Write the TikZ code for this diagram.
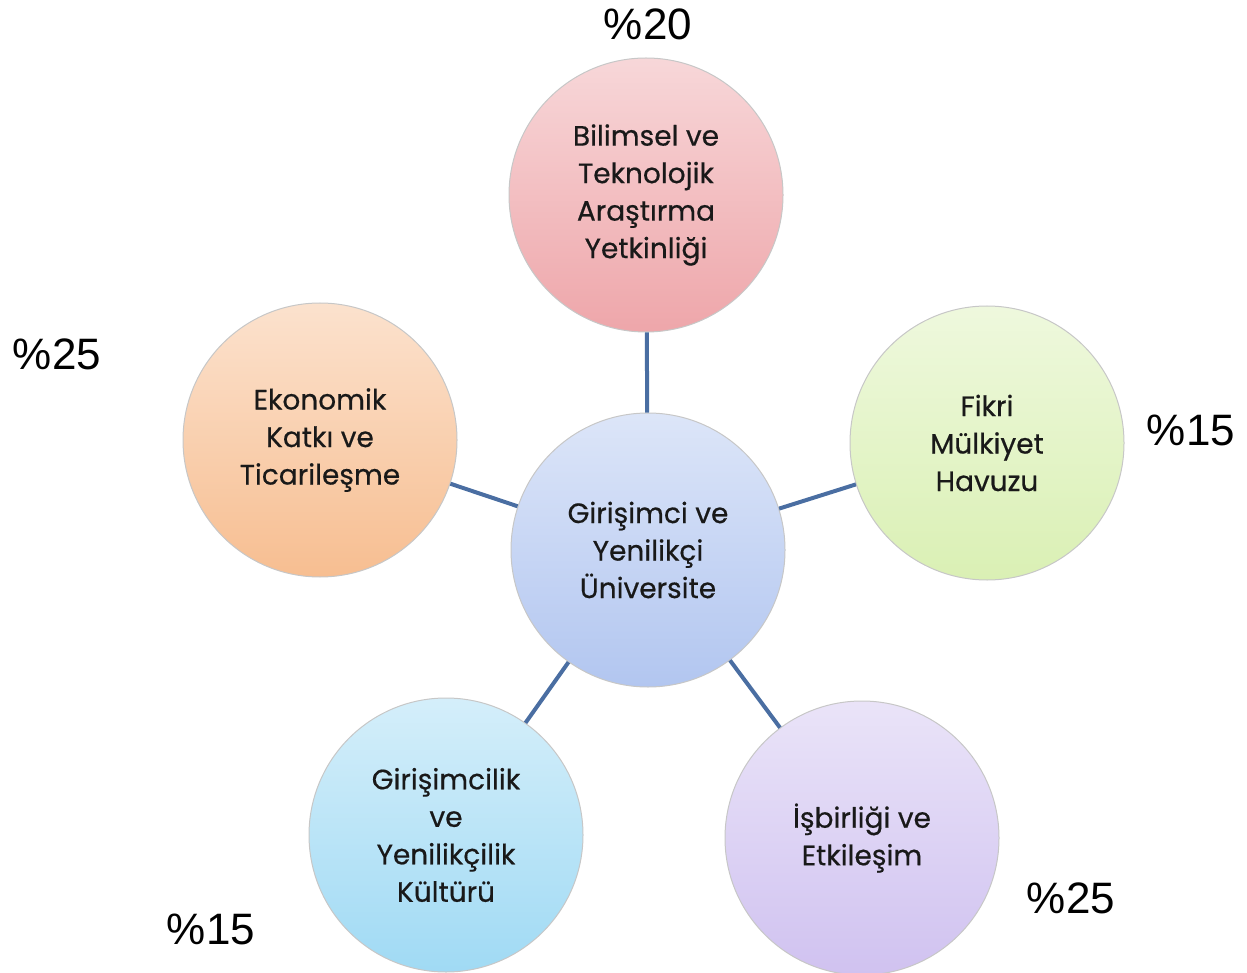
\documentclass[tikz,border=0pt]{standalone}
\usepackage{fontspec}
\usepackage{tikz}
\usetikzlibrary{shadings}
\newfontfamily\bubblefont{Poppins}[FakeBold=0.5]
\newfontfamily\pctfont{Liberation Sans}

\definecolor{pinkc}{RGB}{238,166,170}
\definecolor{orangec}{RGB}{247,190,145}
\definecolor{greenc}{RGB}{218,240,180}
\definecolor{bluec}{RGB}{178,198,240}
\definecolor{cyanc}{RGB}{160,218,244}
\definecolor{purplec}{RGB}{208,194,240}
\definecolor{linkc}{RGB}{74,110,162}

\tikzset{
  bubble/.style={circle, minimum size=274pt, inner sep=0pt, draw=black!22, line width=1pt,
    top color=#1!45!white, middle color=#1!92!white, bottom color=#1, align=center,
    text=black!90, font=\bubblefont\fontsize{28}{37.5}\selectfont,
    execute at begin node={\rule{0pt}{40pt}}},
  pct/.style={font=\pctfont\fontsize{44}{48}\selectfont},
  link/.style={line width=4pt, color=linkc}
}

\begin{document}
\begin{tikzpicture}[x=1pt, y=-1pt]
			%%%%% START %%%%%
			\useasboundingbox (0, 0) rectangle (1247, 973);
			
			\node[bubble=pinkc] (bilimsel) at (646, 195) {Bilimsel ve\\Teknolojik\\Araştırma\\Yetkinliği};
			\node[bubble=orangec] (ekonomik) at (320, 440) {Ekonomik\\Katkı ve\\Ticarileşme};
			\node[bubble=greenc] (fikri) at (987, 443) {Fikri\\Mülkiyet\\Havuzu};
			\node[bubble=cyanc] (kultur) at (446, 835) {Girişimcilik\\ve\\Yenilikçilik\\Kültürü};
			\node[bubble=purplec] (isbirligi) at (862, 838) {İşbirliği ve\\Etkileşim};
			\node[bubble=bluec] (universite) at (648, 550) {Girişimci ve\\Yenilikçi\\Üniversite};
			
			\draw[link] (universite) -- (bilimsel);
			\draw[link] (universite) -- (ekonomik);
			\draw[link] (universite) -- (fikri);
			\draw[link] (universite) -- (kultur);
			\draw[link] (universite) -- (isbirligi);
			
			\node[pct] (p1) at (648, 24) {\%20};
			\node[pct] (p2) at (57, 354) {\%25};
			\node[pct] (p3) at (1191, 430) {\%15};
			\node[pct] (p4) at (211, 929) {\%15};
			\node[pct] (p5) at (1071, 898) {\%25};
			
			%%%%% END %%%%%
\end{tikzpicture}
\end{document}
